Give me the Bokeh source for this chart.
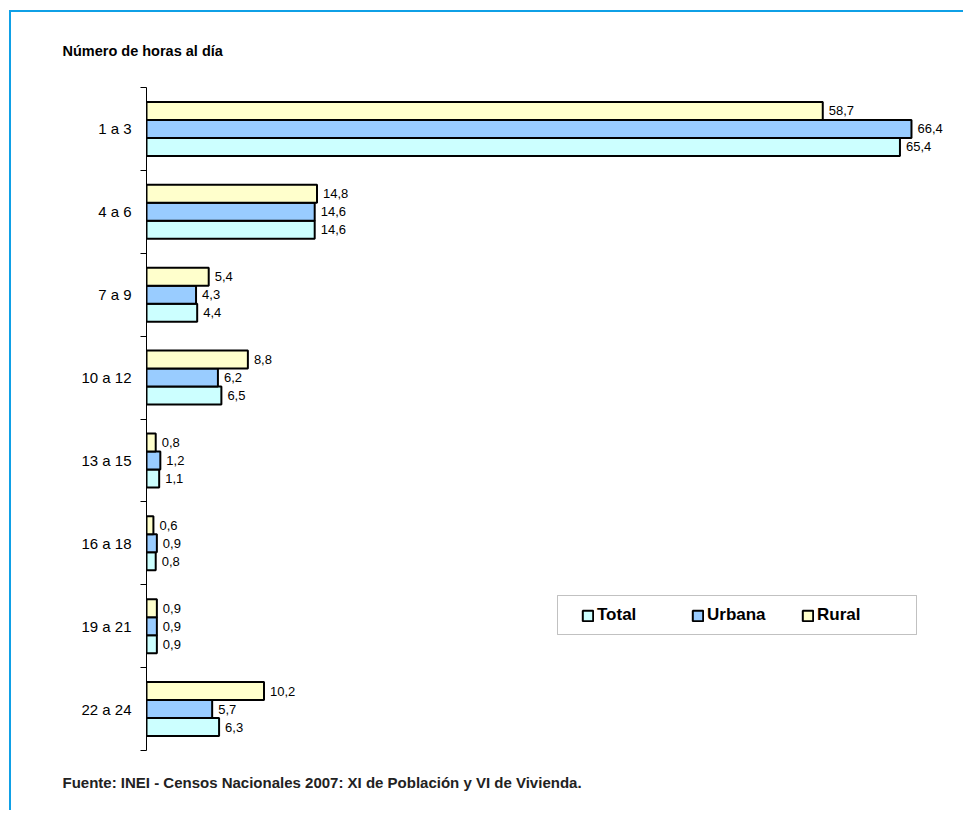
from bokeh.plotting import figure
from bokeh.models import (ColumnDataSource, FixedTicker, Legend, LegendItem,
                          BoxAnnotation, Range1d, Title)
from bokeh.embed import file_html
from bokeh.resources import INLINE
from bokeh.core.properties import value

# ---- data ----
categories = ["1 a 3", "4 a 6", "7 a 9", "10 a 12", "13 a 15", "16 a 18", "19 a 21", "22 a 24"]
total = [65.4, 14.6, 4.4, 6.5, 1.1, 0.8, 0.9, 6.3]
urbana = [66.4, 14.6, 4.3, 6.2, 1.2, 0.9, 0.9, 5.7]
rural = [58.7, 14.8, 5.4, 8.8, 0.8, 0.6, 0.9, 10.2]
series_names = ["Total", "Urbana", "Rural"]
series_colors = ["#CCFFFF", "#99CCFF", "#FFFFCC"]
title_text = "Número de horas al día"
source_text = "Fuente: INEI - Censos Nacionales 2007: XI de Población y VI de Vivienda."

n = len(categories)
centers = [n - i - 0.5 for i in range(n)]
bar_h = 0.217
offsets = {"Total": -bar_h, "Urbana": 0.0, "Rural": bar_h}
values = {"Total": total, "Urbana": urbana, "Rural": rural}

p = figure(width=954, height=800, output_backend="svg", toolbar_location=None,
           x_range=Range1d(0, 69.44), y_range=Range1d(0, n),
           x_axis_location=None,
           min_border_left=135, min_border_right=19, min_border_top=75, min_border_bottom=62)
p.margin = (10, 0, 0, 9)
p.styles = {"border-top": "2px solid #0FA0E6", "border-left": "2px solid #0FA0E6"}
p.outline_line_color = None
p.xgrid.visible = False
p.ygrid.visible = False
p.background_fill_color = "white"
p.border_fill_color = "white"

p.title.text = title_text
p.title.align = "left"
p.title.offset = -84
p.title.standoff = 57
p.title.text_font = "Liberation Sans"
p.title.text_font_size = "14.5px"
p.title.text_font_style = "bold"
p.title.text_color = "black"

renderers = {}
for name, color in zip(series_names, series_colors):
    vals = values[name]
    ys = [c + offsets[name] for c in centers]
    src = ColumnDataSource(dict(
        y=ys, right=vals,
        label=[f"{v:.1f}".replace(".", ",") for v in vals]))
    r = p.hbar(y="y", left=0, right="right", height=bar_h, source=src,
               fill_color=color, line_color="black", line_width=2)
    renderers[name] = r
    p.text(x="right", y="y", text="label", source=src, x_offset=6,
           text_baseline="middle", text_align="left",
           text_font=value("Liberation Sans"), text_font_size="13px",
           text_color="black")

ax = p.yaxis[0]
ax.ticker = FixedTicker(ticks=centers, minor_ticks=list(range(0, n + 1)))
ax.major_label_overrides = {c: cat for c, cat in zip(centers, categories)}
ax.major_tick_line_color = None
ax.major_tick_out = 0
ax.major_tick_in = 0
ax.minor_tick_out = 6
ax.minor_tick_in = 0
ax.minor_tick_line_color = "black"
ax.axis_line_color = "black"
ax.axis_line_width = 1
ax.major_label_standoff = 9
ax.major_label_text_font = "Liberation Sans"
ax.major_label_text_font_size = "15px"
ax.major_label_text_color = "black"

legend = Legend(items=[LegendItem(label=nm, renderers=[renderers[nm]]) for nm in series_names],
                orientation="horizontal", location=(435, 125),
                glyph_width=13, glyph_height=13, label_standoff=3, label_width=94,
                spacing=0, padding=0, border_line_color=None, background_fill_alpha=0,
                label_text_font="Liberation Sans", label_text_font_size="17px",
                label_text_font_style="bold", label_text_color="black")
p.add_layout(legend, "center")

p.add_layout(BoxAnnotation(left=411, right=770, top=155, bottom=116,
                           left_units="screen", right_units="screen",
                           top_units="screen", bottom_units="screen",
                           fill_color=None, fill_alpha=0, line_color="#333333", line_width=1))

p.add_layout(Title(text=source_text, align="left", offset=-84, standoff=42,
                   text_font="Liberation Sans", text_font_size="15px",
                   text_font_style="bold", text_color="#222222"), "below")

open("out.html", "w").write(file_html(p, INLINE))
